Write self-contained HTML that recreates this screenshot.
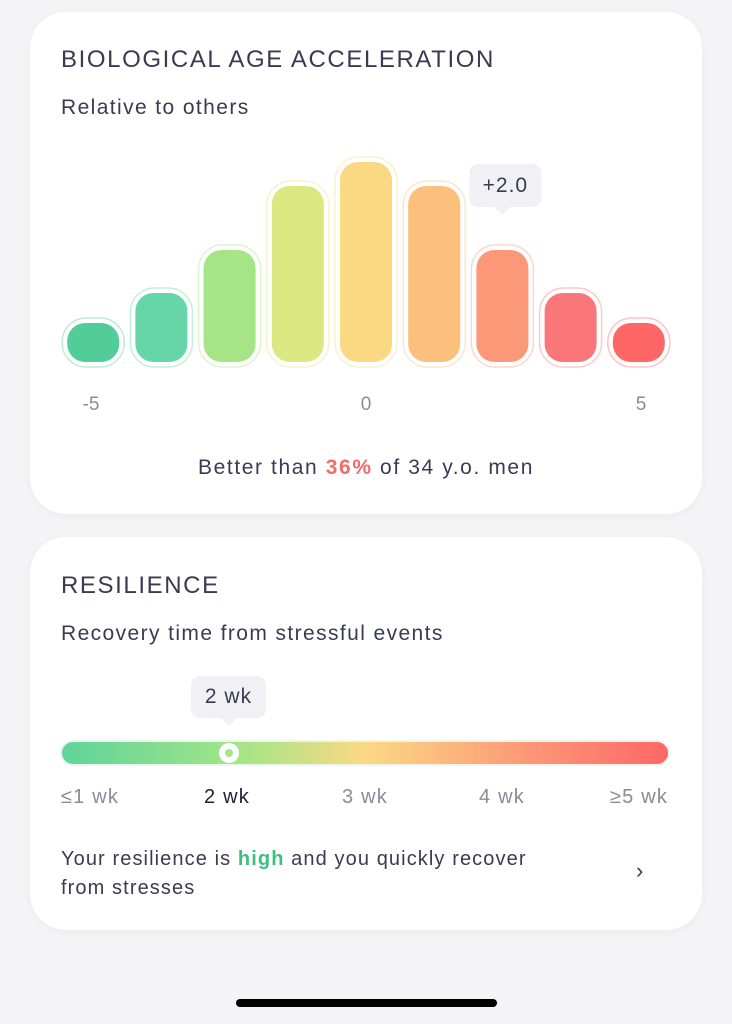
<!DOCTYPE html>
<html><head><meta charset="utf-8"><style>
body{margin:0;width:732px;height:1024px;background:#f4f4f6;font-family:"Liberation Sans",sans-serif;position:relative;overflow:hidden;color:#3a3b52}
.card{position:absolute;left:30px;width:672px;background:#fff;border-radius:36px;box-shadow:0 2px 10px rgba(0,0,0,0.04)}
.t{position:absolute;white-space:nowrap}
</style></head><body>
<div class="card" style="top:12px;height:502px"></div>
<div class="card" style="top:537px;height:393px"></div>
<div class="t" style="left:61px;top:46px;font-size:24px;letter-spacing:1.6px">BIOLOGICAL AGE ACCELERATION</div>
<div class="t" style="left:61px;top:96px;font-size:21px;letter-spacing:1.4px">Relative to others</div>
<svg id="chart" style="position:absolute;left:0;top:0" width="732" height="430"></svg>
<div class="t" style="left:0;width:732px;text-align:center;top:456px;font-size:21px;letter-spacing:1.6px">Better than <b style="color:#f26b6b;font-weight:bold">36%</b> of 34 y.o. men</div>

<div class="t" style="left:61px;top:572px;font-size:24px;letter-spacing:1.6px">RESILIENCE</div>
<div class="t" style="left:61px;top:622px;font-size:21px;letter-spacing:1.4px">Recovery time from stressful events</div>
<div class="t" style="left:191px;top:676px;width:75px;height:42px;background:#f1f1f5;border-radius:9px;text-align:center;line-height:42px;font-size:21px;letter-spacing:1px">2 wk</div>
<div class="t" style="left:221px;top:718px;width:0;height:0;border-left:8px solid transparent;border-right:8px solid transparent;border-top:8px solid #f1f1f5"></div>
<div class="t" style="left:60px;top:740px;width:610px;height:26px;border-radius:13px;box-sizing:border-box;border:2px solid #eef5ef;background:linear-gradient(90deg,#5fd49a,#a5e587 30%,#fbd983 50%,#fc9c78 75%,#ff6767)"></div>
<div class="t" style="left:219px;top:743px;width:20px;height:20px;border-radius:50%;background:#fff"><div style="position:absolute;left:6px;top:6px;width:8px;height:8px;border-radius:50%;background:#a5e587"></div></div>
<div class="t" style="left:61px;top:786px;font-size:20px;color:#8a8b98;letter-spacing:1.2px">≤1 wk</div>
<div class="t" style="left:204px;top:786px;font-size:20px;color:#1f2030;letter-spacing:1.2px">2 wk</div>
<div class="t" style="left:342px;top:786px;font-size:20px;color:#8a8b98;letter-spacing:1.2px">3 wk</div>
<div class="t" style="left:479px;top:786px;font-size:20px;color:#8a8b98;letter-spacing:1.2px">4 wk</div>
<div class="t" style="left:610px;top:786px;font-size:20px;color:#8a8b98;letter-spacing:1.2px">≥5 wk</div>
<div class="t" style="left:61px;top:845px;font-size:20px;line-height:29px;letter-spacing:1.1px">Your resilience is <b style="color:#3cbf7f">high</b> and you quickly recover<br>from stresses</div>
<div class="t" style="left:636px;top:858px;font-size:22px;color:#3a3b52">›</div>
<div class="t" style="left:236px;top:999px;width:261px;height:8px;border-radius:4px;background:#000"></div>
<script>
const categories=[-4,-3,-2,-1,0,1,2,3,4];
const values=[3.9,6.9,11.2,17.6,20,17.6,11.2,6.9,3.9];
const colors=['#52cc98','#66d6a8','#a5e587','#dbe882','#fbd983','#fcc07c','#fb9878','#fa7779','#ff6767'];
const tickLabels=['-5','0','5'];
const tickValues=[-5,0,5];
const highlightIndex=6;
const highlightLabel='+2.0';
const svg=document.getElementById('chart');
const NS='http://www.w3.org/2000/svg';
const x=v=>366+v*68.2;
const xt=v=>366+v*55;
const baseY=362;
const h=v=>v*10;
const bw=52;
categories.forEach((c,i)=>{
  const cx=x(c),hh=h(values[i]),top=baseY-hh;
  const o=document.createElementNS(NS,'rect');
  o.setAttribute('x',cx-bw/2-5);o.setAttribute('y',top-5);o.setAttribute('width',bw+10);o.setAttribute('height',hh+10);
  o.setAttribute('rx',Math.min(24,(hh+10)/2));o.setAttribute('fill','#fff');o.setAttribute('stroke',colors[i]);o.setAttribute('stroke-opacity','0.4');o.setAttribute('stroke-width','1.5');
  
  
  svg.appendChild(o);
  const r=document.createElementNS(NS,'rect');
  r.setAttribute('x',cx-bw/2);r.setAttribute('y',top);r.setAttribute('width',bw);r.setAttribute('height',hh);
  r.setAttribute('rx',Math.min(18,hh/2));r.setAttribute('fill',colors[i]);
  
  
  svg.appendChild(r);
});
tickValues.forEach((t,i)=>{
  const tx=document.createElementNS(NS,'text');
  tx.setAttribute('x',xt(t));tx.setAttribute('y',410);tx.setAttribute('text-anchor','middle');
  tx.setAttribute('font-size','19');tx.setAttribute('fill','#8a8b98');tx.setAttribute('font-family','Liberation Sans, sans-serif');
  tx.textContent=tickLabels[i];
  
  
  svg.appendChild(tx);
});
const hx=x(categories[highlightIndex]),hy=baseY-h(values[highlightIndex])-43;
const g=document.createElementNS(NS,'g');


g.innerHTML=`<rect x="${hx-33}" y="${hy-43}" width="72" height="43" rx="9" fill="#f1f1f5"/><path d="M${hx-8} ${hy} L${hx} ${hy+8} L${hx+8} ${hy}Z" fill="#f1f1f5"/><text x="${hx+3}" y="${hy-15}" text-anchor="middle" font-size="21" letter-spacing="1" fill="#3a3b52" font-family="Liberation Sans, sans-serif">${highlightLabel}</text>`;
svg.appendChild(g);
</script>
</body></html>
